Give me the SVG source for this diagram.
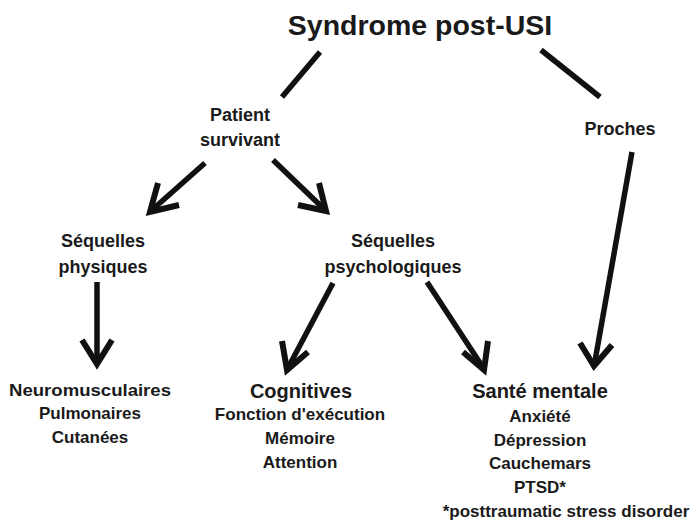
<svg xmlns="http://www.w3.org/2000/svg" width="694" height="523" viewBox="0 0 694 523">
<defs>
<style>
text{font-family:"Liberation Sans",Arial,sans-serif;font-weight:bold;fill:#1a1a1a;text-anchor:middle}
.t{font-size:28.5px}
.m{font-size:18px}
.s{font-size:17px}
.h{font-size:20px}
.c line{stroke:#111;stroke-width:5.5;stroke-linecap:butt}
.c polyline{fill:none;stroke:#111;stroke-width:6;stroke-linejoin:miter}
</style>
</defs>
<rect width="694" height="523" fill="#fff"/>
<g id="title"><text class="t" x="420" y="35">Syndrome post-USI</text></g>
<g id="patient"><text class="m" x="240" y="121">Patient</text><text class="m" x="240" y="146">survivant</text></g>
<g id="proches"><text class="m" x="620" y="135">Proches</text></g>
<g id="physiques"><text class="m" x="103" y="247">Séquelles</text><text class="m" x="103" y="273">physiques</text></g>
<g id="psycho"><text class="m" x="393" y="247">Séquelles</text><text class="m" x="393" y="273">psychologiques</text></g>
<g id="neuro"><text class="s" x="90" y="396" textLength="162" lengthAdjust="spacingAndGlyphs">Neuromusculaires</text><text class="s" x="90" y="419">Pulmonaires</text><text class="s" x="90" y="443">Cutanées</text></g>
<g id="cognitives"><text class="h" x="301" y="398">Cognitives</text><text class="s" x="300" y="420">Fonction d'exécution</text><text class="s" x="300" y="444">Mémoire</text><text class="s" x="300" y="468">Attention</text></g>
<g id="mentale"><text class="h" x="540" y="398">Santé mentale</text><text class="s" x="540" y="422">Anxiété</text><text class="s" x="540" y="446">Dépression</text><text class="s" x="540" y="469">Cauchemars</text><text class="s" x="540" y="493">PTSD*</text><text class="s" x="566" y="517">*posttraumatic stress disorder</text></g>
<g id="connectors" class="c">
<line x1="320" y1="52" x2="282" y2="97"/>
<line x1="541" y1="50" x2="600" y2="97"/>
<line x1="205" y1="163" x2="152" y2="210"/>
<polyline points="158,183 150,212 179,205"/>
<line x1="273" y1="160" x2="323" y2="208"/>
<polyline points="298,205 326,211 319,183"/>
<line x1="97" y1="282" x2="97" y2="360"/>
<polyline points="82,340 97,364 112,340"/>
<line x1="333" y1="283" x2="289" y2="366"/>
<polyline points="282,341 287,370 308,352"/>
<line x1="427" y1="282" x2="482" y2="366"/>
<polyline points="463,352 484,370 488,341"/>
<line x1="632" y1="152" x2="595" y2="361"/>
<polyline points="580,343 594,366 612,345"/>
</g>
</svg>
